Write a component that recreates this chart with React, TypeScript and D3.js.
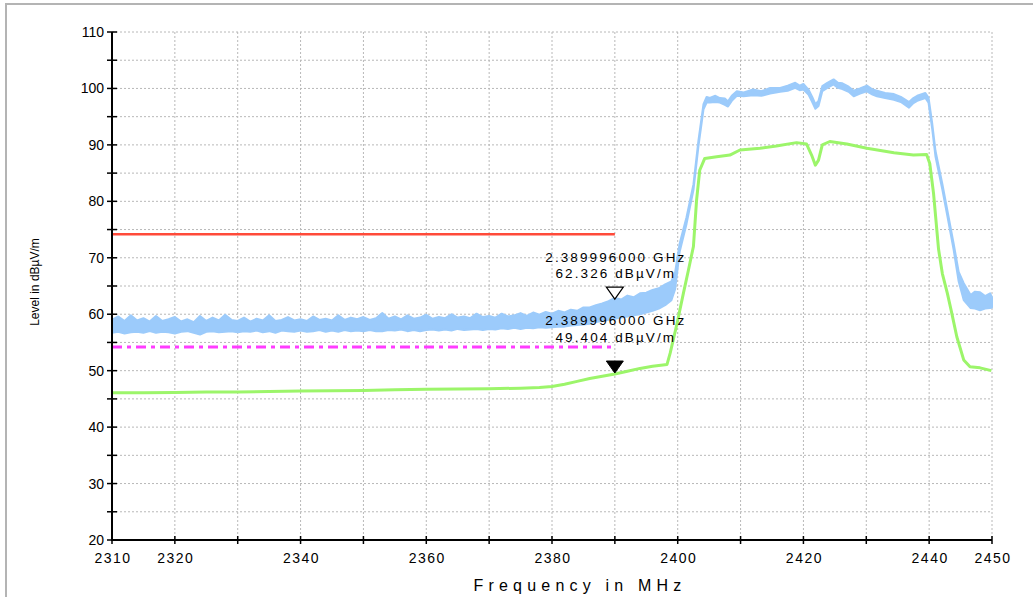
import { useEffect, useRef } from 'react';
import * as d3 from 'd3';

// axis ticks
const freqTicks = [2310, 2320, 2330, 2340, 2350, 2360, 2370, 2380, 2390, 2400, 2410, 2420, 2430, 2440, 2450];
const freqLabels = [2310, 2320, 2340, 2360, 2380, 2400, 2420, 2440, 2450];
const levelTicks = [20, 25, 30, 35, 40, 45, 50, 55, 60, 65, 70, 75, 80, 85, 90, 95, 100, 105, 110];
const levelLabels = [20, 30, 40, 50, 60, 70, 80, 90, 100, 110];

// limit lines (dBµV/m)
const limitFreq = [2310, 2390];
const peakLimit = 74;
const avgLimit = 54;

// peak trace (noisy band: upper / lower envelope)
const peakFreq = [
  2310, 2311, 2312, 2313, 2314, 2315, 2316, 2317, 2318, 2319,
  2320, 2321, 2322, 2323, 2324, 2325, 2326, 2327, 2328, 2329,
  2330, 2331, 2332, 2333, 2334, 2335, 2336, 2337, 2338, 2339,
  2340, 2341, 2342, 2343, 2344, 2345, 2346, 2347, 2348, 2349,
  2350, 2351, 2352, 2353, 2354, 2355, 2356, 2357, 2358, 2359,
  2360, 2361, 2362, 2363, 2364, 2365, 2366, 2367, 2368, 2369,
  2370, 2371, 2372, 2373, 2374, 2375, 2376, 2377, 2378, 2379,
  2380, 2381, 2382, 2383, 2384, 2385, 2386, 2387, 2388, 2389,
  2390, 2391, 2392, 2393, 2394, 2395, 2396, 2397, 2398, 2399,
  2399.6, 2400.3, 2401.4, 2402.5, 2403.3, 2404.1, 2404.6, 2405.1, 2406.0, 2406.7,
  2407.5, 2408.0, 2408.6, 2409.4, 2410.5, 2412.0, 2413.3, 2414.7, 2416.3, 2417.5,
  2418.7, 2419.4, 2420.0, 2420.8, 2421.4, 2421.9, 2422.4, 2423.0, 2423.8, 2424.8,
  2425.5, 2426.2, 2427.2, 2428.0, 2429.0, 2430.1, 2431.0, 2431.7, 2433.0, 2434.4,
  2435.5, 2436.8, 2437.5, 2438.1, 2439.4, 2439.9, 2440.5, 2441.0, 2442.1, 2442.9,
  2443.9, 2444.7, 2445.5, 2446.6, 2447.3, 2448.1, 2448.9, 2449.7, 2450,
];
const peakHi = [
  59.0, 59.6, 58.8, 59.8, 58.9, 59.3, 58.7, 59.7, 58.8, 59.1,
  59.5, 58.7, 59.1, 58.6, 59.7, 58.8, 59.4, 58.9, 59.9, 59.0,
  58.8, 59.4, 58.7, 59.2, 58.9, 59.8, 58.8, 59.0, 59.5, 58.9,
  59.1, 58.8, 59.6, 59.0, 59.2, 58.9, 59.8, 59.0, 59.4, 59.1,
  59.5, 59.0, 59.3, 60.2, 59.2, 59.6, 59.1, 59.8, 59.2, 59.4,
  59.9, 59.2, 59.5, 59.3, 60.0, 59.4, 59.6, 59.3, 60.1, 59.5,
  59.7, 59.4, 60.1, 59.6, 59.8, 60.2, 59.7, 60.3, 59.9, 60.4,
  60.1, 60.6, 60.3, 60.8, 60.6, 61.2, 61.2, 61.6, 61.9, 62.3,
  62.9, 62.6, 63.3, 63.0, 63.7, 63.8, 64.3, 64.6, 65.3, 65.8,
  67.5, 72.5, 77.2, 83.0, 90.8, 97.2, 98.5, 98.3, 98.7, 98.3,
  98.2, 97.7, 98.7, 99.5, 99.3, 99.8, 99.5, 100.1, 100.1, 100.5,
  101.0, 100.5, 100.8, 99.8, 98.5, 97.2, 97.8, 100.4, 101.0, 101.6,
  101.0, 100.9, 100.3, 99.6, 100.0, 100.5, 99.8, 99.6, 99.2, 99.0,
  98.5, 97.6, 98.3, 98.7, 99.2, 98.4, 93.7, 89.0, 83.1, 78.4,
  72.5, 67.5, 65.5, 63.4, 64.0, 63.9, 63.2, 63.7, 63.0,
];
const peakLo = [
  56.7, 56.9, 56.6, 56.8, 56.9, 56.7, 57.0, 56.7, 56.9, 56.8,
  56.6, 56.9, 57.0, 56.7, 56.4, 56.9, 57.0, 56.8, 56.9, 57.0,
  56.8, 57.0, 56.9, 57.1, 56.8, 57.0, 56.7, 57.1, 57.0, 56.9,
  57.1, 56.9, 57.0, 57.2, 56.9, 57.1, 56.9, 57.2, 57.0, 57.1,
  57.0, 57.2, 57.0, 57.0, 57.2, 57.1, 57.3, 57.0, 57.2, 57.0,
  57.2, 57.3, 57.1, 57.3, 57.1, 57.4, 57.2, 57.3, 57.4, 57.2,
  57.4, 57.3, 57.5, 57.4, 57.6, 57.4, 57.6, 57.5, 57.7, 57.6,
  57.7, 57.8, 57.8, 58.0, 58.1, 58.2, 58.3, 58.6, 58.8, 59.0,
  59.2, 59.4, 59.6, 59.8, 60.0, 60.3, 60.6, 61.0, 61.6, 62.5,
  64.5, 71.0, 76.0, 82.0, 89.8, 96.3, 97.5, 97.5, 97.6, 97.5,
  97.1, 96.8, 97.8, 98.7, 98.6, 98.8, 98.7, 99.1, 99.4, 99.6,
  100.1, 99.7, 99.8, 98.9, 97.6, 96.4, 96.9, 99.5, 100.1, 100.7,
  100.1, 99.9, 99.4, 98.6, 99.1, 99.5, 98.9, 98.6, 98.3, 98.0,
  97.6, 96.6, 97.4, 97.8, 98.3, 97.5, 92.7, 88.0, 82.1, 77.4,
  71.4, 65.8, 62.5, 61.1, 61.0, 60.7, 61.0, 61.1, 61.2,
];

// average trace
const avgFreq = [
  2310, 2315, 2320, 2325, 2330, 2335, 2340, 2345, 2350, 2355,
  2360, 2365, 2370, 2375, 2378, 2380, 2382, 2384, 2386, 2388,
  2390, 2392, 2394, 2396, 2398.3, 2398.8, 2399.9, 2400.9, 2401.7, 2402.5,
  2403.0, 2403.5, 2404.3, 2406.2, 2408.3, 2409.9, 2413.1, 2415.7, 2418.9, 2420.5,
  2421.3, 2421.9, 2422.4, 2423.0, 2424.2, 2426.9, 2430.1, 2434.4, 2437.5, 2439.6,
  2440.1, 2440.7, 2441.5, 2442.1, 2442.9, 2443.6, 2444.4, 2445.5, 2446.5, 2448.1, 2449.9,
];
const avgLevel = [
  46.1, 46.1, 46.15, 46.2, 46.2, 46.3, 46.4, 46.45, 46.5, 46.6,
  46.7, 46.75, 46.8, 46.9, 47.0, 47.2, 47.6, 48.1, 48.6, 49.0,
  49.4, 49.9, 50.4, 50.8, 51.1, 53.1, 58.4, 63.7, 67.8, 72.0,
  80.2, 85.5, 87.6, 87.9, 88.2, 89.1, 89.4, 89.8, 90.4, 90.15,
  88.2, 86.4, 87.3, 90.0, 90.6, 90.15, 89.4, 88.6, 88.2, 88.3,
  86.7, 81.4, 71.5, 67.2, 63.7, 60.2, 56.0, 51.9, 50.7, 50.5, 50.0,
];

// markers
const markerFreq = 2389.996;
const markerPeak = 62.326;
const markerAvg = 49.404;

export default function App() {
  const svgRef = useRef<SVGSVGElement>(null);

  useEffect(() => {
    const width = 1033;
    const height = 597;
    const svg = d3.select(svgRef.current);
    svg.selectAll('*').remove();
    svg.attr('width', width).attr('height', height);

    const x = d3.scaleLinear().domain([2310, 2450]).range([112, 992]);
    const y = d3.scaleLinear().domain([20, 110]).range([540, 32]);
    const font = 'Arial, "Liberation Sans", sans-serif';

    // outer frame
    svg.append('rect')
      .attr('x', 6).attr('y', 4)
      .attr('width', 1100).attr('height', 700)
      .attr('fill', 'white')
      .attr('stroke', '#b4b4b4')
      .attr('stroke-width', 2);

    // grid
    const grid = svg.append('g')
      .attr('stroke', '#b8b8b8')
      .attr('stroke-width', 1)
      .attr('stroke-dasharray', '2,2');
    grid.selectAll('.gx')
      .data(freqTicks.slice(1))
      .enter()
      .append('line')
      .attr('x1', (d) => x(d)).attr('x2', (d) => x(d))
      .attr('y1', y(110)).attr('y2', y(20));
    grid.selectAll('.gy')
      .data(levelTicks.slice(1))
      .enter()
      .append('line')
      .attr('x1', x(2310)).attr('x2', x(2450))
      .attr('y1', (d) => y(d)).attr('y2', (d) => y(d));

    // limit lines
    svg.append('line')
      .attr('x1', x(limitFreq[0])).attr('x2', x(limitFreq[1]))
      .attr('y1', y(peakLimit) - 1).attr('y2', y(peakLimit) - 1)
      .attr('stroke', '#ff4a3a')
      .attr('stroke-width', 2.5);
    svg.append('line')
      .attr('x1', x(limitFreq[0])).attr('x2', x(limitFreq[1]))
      .attr('y1', y(avgLimit) - 1).attr('y2', y(avgLimit) - 1)
      .attr('stroke', '#ff3cff')
      .attr('stroke-width', 3)
      .attr('stroke-dasharray', '10,5,4,5');

    // peak trace band
    const peakData = peakFreq.map((f, i) => ({ f, hi: peakHi[i], lo: peakLo[i] }));
    const band = d3.area<{ f: number; hi: number; lo: number }>()
      .x((d) => x(d.f))
      .y0((d) => y(d.lo))
      .y1((d) => y(d.hi));
    svg.append('path')
      .datum(peakData)
      .attr('d', band)
      .attr('fill', '#9ccbfb')
      .attr('stroke', '#9ccbfb')
      .attr('stroke-width', 2)
      .attr('stroke-linejoin', 'round');

    // average trace
    const avgData = avgFreq.map((f, i) => ({ f, v: avgLevel[i] }));
    const avgLine = d3.line<{ f: number; v: number }>()
      .x((d) => x(d.f))
      .y((d) => y(d.v));
    svg.append('path')
      .datum(avgData)
      .attr('d', avgLine)
      .attr('fill', 'none')
      .attr('stroke', '#9cf56a')
      .attr('stroke-width', 3)
      .attr('stroke-linejoin', 'round');

    // axes
    const axes = svg.append('g').attr('stroke', 'black');
    axes.append('line')
      .attr('x1', x(2310)).attr('x2', x(2310))
      .attr('y1', y(110)).attr('y2', y(20) + 1)
      .attr('stroke-width', 2);
    axes.append('line')
      .attr('x1', x(2310) - 1).attr('x2', x(2450))
      .attr('y1', y(20)).attr('y2', y(20))
      .attr('stroke-width', 2);
    axes.selectAll('.ty')
      .data(levelTicks)
      .enter()
      .append('line')
      .attr('x1', x(2310) - 5).attr('x2', x(2310) + 5)
      .attr('y1', (d) => y(d)).attr('y2', (d) => y(d))
      .attr('stroke-width', 1.5);
    axes.selectAll('.tx')
      .data(freqTicks)
      .enter()
      .append('line')
      .attr('x1', (d) => x(d)).attr('x2', (d) => x(d))
      .attr('y1', y(20) - 4).attr('y2', y(20) + 4)
      .attr('stroke-width', 1.5);

    svg.append('g')
      .selectAll('text')
      .data(levelLabels)
      .enter()
      .append('text')
      .attr('x', x(2310) - 8)
      .attr('y', (d) => y(d) + 5)
      .attr('text-anchor', 'end')
      .style('font-family', font)
      .style('font-size', '14px')
      .text((d) => d);

    svg.append('g')
      .selectAll('text')
      .data(freqLabels)
      .enter()
      .append('text')
      .attr('x', (d) => x(d) + 1)
      .attr('y', 563)
      .attr('text-anchor', 'middle')
      .style('font-family', font)
      .style('font-size', '14px')
      .style('letter-spacing', '1.5px')
      .text((d) => d);

    // axis titles
    svg.append('text')
      .attr('x', 580)
      .attr('y', 591)
      .attr('text-anchor', 'middle')
      .style('font-family', font)
      .style('font-size', '16px')
      .style('letter-spacing', '5.2px')
      .text('Frequency in MHz');
    svg.append('text')
      .attr('transform', 'translate(39,282) rotate(-90)')
      .attr('text-anchor', 'middle')
      .style('font-family', font)
      .style('font-size', '12px')
      .text('Level in dBµV/m');

    // markers
    const mx = x(markerFreq);
    const tri = (tipY: number) => `M${mx - 8.5},${tipY - 12} L${mx + 8.5},${tipY - 12} L${mx},${tipY} Z`;
    svg.append('path')
      .attr('d', tri(y(markerPeak) - 2))
      .attr('fill', 'white')
      .attr('stroke', 'black')
      .attr('stroke-width', 1.2);
    svg.append('path')
      .attr('d', tri(y(markerAvg) - 1))
      .attr('fill', 'black')
      .attr('stroke', 'black')
      .attr('stroke-width', 1);

    const labels = [
      { text: `${(markerFreq / 1000).toFixed(9)} GHz`, dy: -39, base: markerPeak },
      { text: `${markerPeak.toFixed(3)} dBµV/m`, dy: -23, base: markerPeak },
      { text: `${(markerFreq / 1000).toFixed(9)} GHz`, dy: -49, base: markerAvg },
      { text: `${markerAvg.toFixed(3)} dBµV/m`, dy: -32, base: markerAvg },
    ];
    svg.append('g')
      .selectAll('text')
      .data(labels)
      .enter()
      .append('text')
      .attr('x', mx + 1)
      .attr('y', (d) => y(d.base) + d.dy)
      .attr('text-anchor', 'middle')
      .style('font-family', font)
      .style('font-size', '13.5px')
      .style('letter-spacing', '2.1px')
      .text((d) => d.text);
  }, []);

  return (
    <svg
      ref={svgRef}
      style={{ position: 'absolute', left: 0, top: 0, display: 'block' }}
    ></svg>
  );
}
